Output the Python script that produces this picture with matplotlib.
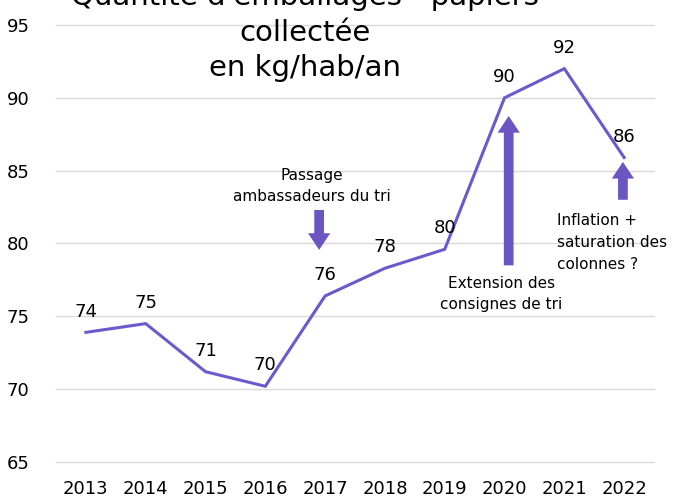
import matplotlib
matplotlib.use("Agg")
import matplotlib.pyplot as plt

years = ["2013", "2014", "2015", "2016", "2017", "2018", "2019", "2020", "2021", "2022"]
values = [73.9, 74.5, 71.2, 70.2, 76.4, 78.3, 79.6, 90.0, 92.0, 85.9]
labels = ["74", "75", "71", "70", "76", "78", "80", "90", "92", "86"]
yticks = [65, 70, 75, 80, 85, 90, 95]

line_color = "#6a5acd"
arrow_color = "#6b55c2"

fig = plt.figure(figsize=(6.87, 4.99), dpi=100)
ax = fig.add_axes([0.0815, 0.0741, 0.8705, 0.8759])

x = list(range(len(years)))
ax.plot(x, values, color=line_color, lw=2.2, solid_joinstyle="miter")
for xi, v, lab in zip(x, values, labels):
    ax.annotate(lab, (xi, v), xytext=(0, 15), textcoords="offset points",
                ha="center", va="center", fontsize=13)

ax.set_xlim(-0.5, len(years) - 0.5)
ax.set_ylim(65, 95)
ax.set_yticks(yticks)
ax.set_xticks(x)
ax.set_xticklabels(years)
ax.tick_params(axis="both", length=0, labelsize=13)
ax.tick_params(axis="y", pad=19)
ax.tick_params(axis="x", pad=13)
ax.grid(axis="y", color="#d9d9d9", lw=1)
for gl in ax.get_ygridlines():
    gl.set_clip_on(False)
ax.set_axisbelow(True)
for s in ax.spines.values():
    s.set_visible(False)

arrow_style = "simple,head_length=12,head_width=16,tail_width=7"
arrows = [((3.9, 82.3), (3.9, 79.56)),
          ((7.07, 78.5), (7.07, 88.75)),
          ((8.98, 83.0), (8.98, 85.6))]
for tail, tip in arrows:
    ax.annotate("", xy=tip, xytext=tail,
                arrowprops=dict(arrowstyle=arrow_style, color=arrow_color,
                                mutation_scale=1, shrinkA=0, shrinkB=0, lw=0))

ax.text(3.78, 83.95, "Passage\nambassadeurs du tri", ha="center", va="center",
        fontsize=11, linespacing=1.5)
ax.text(6.95, 76.54, "Extension des\nconsignes de tri", ha="center", va="center",
        fontsize=11, linespacing=1.5)
ax.text(7.87, 80.07, "Inflation +\nsaturation des\ncolonnes ?", ha="left", va="center",
        fontsize=11, linespacing=1.55, multialignment="left")

fig.text(0.444, 1 - 32 / 499, "Quantité d'emballages - papiers\ncollectée\nen kg/hab/an",
         ha="center", va="center", fontsize=21, linespacing=1.34)

fig.savefig("out.png", dpi=100)
